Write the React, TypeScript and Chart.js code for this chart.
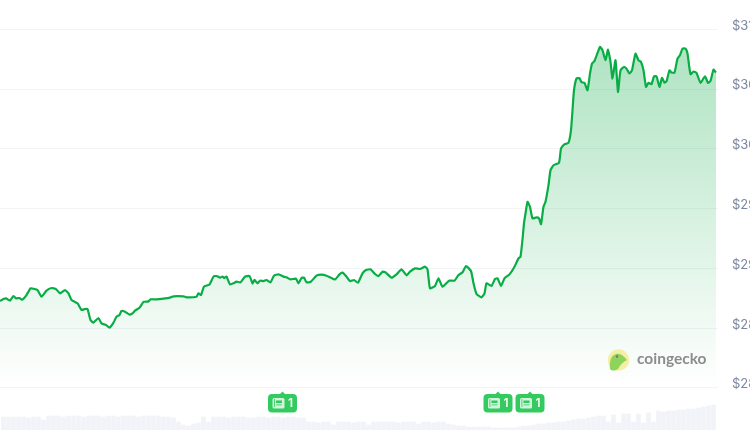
import React, { useEffect, useRef } from "react";
import { Chart, registerables } from "chart.js";

Chart.register(...registerables);

const priceTicks = [28000, 28500, 29000, 29500, 30000, 30500, 31000];

const priceMinutes = [
  0, 7, 12, 20, 27, 32, 39, 44, 53, 61, 67, 75, 83, 93, 103, 112, 120, 130, 137, 143,
  155, 163, 170, 175, 181, 187, 197, 203, 212, 219, 227, 233, 239, 243, 250, 259, 265, 270, 279, 287,
  297, 301, 313, 327, 340, 347, 367, 373, 393, 397, 402, 408, 419, 427, 433, 440, 445, 448, 453, 460,
  467, 473, 481, 490, 499, 505, 509, 515, 520, 527, 533, 541, 548, 557, 567, 573, 581, 592, 597, 603,
  608, 613, 621, 633, 643, 653, 670, 679, 685, 692, 700, 708, 716, 725, 732, 741, 750,
  757, 765, 771, 783, 793, 803, 813, 820, 830, 840, 850, 855, 860, 870, 877, 885, 898, 909, 917, 925,
  932, 942, 947, 953, 963, 969, 973, 983, 990, 995, 1002, 1009, 1019, 1029, 1037, 1041,
  1045, 1048, 1051, 1055, 1060, 1065, 1073, 1078, 1082, 1087, 1091, 1097, 1101, 1107, 1118, 1122, 1128, 1137, 1142, 1145,
  1148, 1153, 1159, 1163, 1169, 1175, 1180, 1184, 1189, 1200, 1205, 1211, 1216, 1221, 1225, 1231, 1236, 1241, 1248, 1253,
  1259, 1264, 1271, 1277, 1282, 1287, 1292, 1297, 1303, 1308, 1313, 1319, 1324, 1329, 1333, 1339, 1343, 1349, 1355, 1360,
  1365, 1371, 1375, 1381, 1387, 1393, 1401, 1410, 1416, 1421, 1427, 1432,
];

const priceValues = [
  28727, 28744, 28749, 28730, 28769, 28749, 28752, 28738, 28777, 28833, 28830, 28819, 28763, 28814, 28836, 28827, 28791, 28819, 28791, 28736,
  28708, 28652, 28660, 28660, 28568, 28546, 28585, 28540, 28527, 28504, 28546, 28596, 28610, 28644, 28638, 28613, 28624, 28646, 28671, 28719,
  28724, 28741, 28741, 28747, 28755, 28766, 28766, 28758, 28763, 28791, 28777, 28847, 28866, 28931, 28936, 28922, 28931, 28919, 28931, 28866,
  28875, 28889, 28883, 28931, 28936, 28875, 28903, 28875, 28897, 28894, 28903, 28883, 28939, 28950, 28931, 28925, 28908, 28914, 28875, 28919,
  28922, 28883, 28886, 28939, 28947, 28939, 28908, 28950, 28964, 28936, 28894, 28903, 28880, 28958, 28986, 28992, 28953,
  28936, 28972, 28967, 28922, 28950, 28992, 28942, 28972, 29000, 28995, 29014, 28992, 28833, 28853, 28917, 28847, 28897, 28897, 28944, 28967,
  29020, 28978, 28875, 28786, 28758, 28791, 28875, 28853, 28911, 28917, 28853, 28917, 28950, 29014, 29084, 29098,
  29242, 29376, 29459, 29557, 29515, 29418, 29426, 29418, 29370, 29515, 29557, 29696, 29822, 29863, 29883, 30003, 30036, 30050, 30156, 30323,
  30490, 30588, 30591, 30557, 30552, 30490, 30630, 30713, 30735, 30852, 30825, 30741, 30830, 30727, 30588, 30741, 30476, 30657, 30685, 30671,
  30630, 30657, 30797, 30741, 30727, 30657, 30518, 30552, 30540, 30607, 30607, 30518, 30593, 30554, 30565, 30657, 30638, 30638, 30755, 30783,
  30838, 30838, 30797, 30624, 30646, 30635, 30552, 30607, 30552, 30568, 30663, 30638,
];

const volumeValues = [
  13, 13, 13, 13, 13, 12, 13, 13, 10, 14, 14, 14, 13, 14, 14, 14, 13, 14, 14, 14,
  13, 14, 14, 13, 14, 14, 14, 13, 14, 14, 14, 14, 13, 13, 12, 8, 5, 4, 6, 7,
  13, 8, 13, 13, 13, 12, 13, 13, 13, 12, 12, 13, 13, 12, 13, 13, 12, 13, 13, 12,
  12, 8, 8, 7, 8, 8, 5, 8, 8, 8, 7, 8, 8, 5, 8, 8, 8, 8, 8, 7,
  8, 8, 8, 6, 8, 8, 7, 8, 8, 6, 5, 4, 4, 3, 3, 3, 3, 3, 2, 2,
  2, 2, 2, 3, 4, 4, 5, 6, 6, 7, 7, 8, 8, 9, 10, 11, 11, 12, 13, 14,
  14, 8, 15, 7, 16, 16, 8, 16, 7, 17, 8, 19, 18, 19, 19, 20, 20, 21, 21, 22,
  23, 24, 25,
];
const volumeFirstMinute = 7;
const volumeStepMinutes = 10;

const newsMinutes = [565, 996, 1060];
const newsCounts = ["1", "1", "1"];
const brandName = "coingecko";

const overlayPlugin = {
  id: "overlay",
  afterDatasetsDraw(chart: any) {
    const { ctx, scales } = chart;
    ctx.save();
    newsMinutes.forEach((m, i) => {
      const cx = scales.x.getPixelForValue(m);
      const left = cx - 14.5;
      const top = 394;
      ctx.fillStyle = "#33cb5f";
      ctx.beginPath();
      ctx.roundRect(left, top, 29, 18.5, 4);
      ctx.fill();
      ctx.beginPath();
      ctx.moveTo(cx - 2.5, top);
      ctx.lineTo(cx, top - 2.5);
      ctx.lineTo(cx + 2.5, top);
      ctx.fill();
      ctx.fillStyle = "#d4f3dc";
      ctx.beginPath();
      ctx.roundRect(left + 4.5, top + 4, 12, 10.5, 1.5);
      ctx.fill();
      ctx.fillStyle = "#33cb5f";
      ctx.fillRect(left + 8, top + 6.5, 6, 2.5);
      ctx.fillRect(left + 8, top + 10.5, 6, 0.8);
      ctx.fillRect(left + 6, top + 5, 0.8, 8);
      ctx.fillStyle = "#f4fcf6";
      ctx.font = "600 12px Inter, sans-serif";
      ctx.textAlign = "left";
      ctx.textBaseline = "middle";
      ctx.fillText(newsCounts[i], left + 20, top + 9.8);
    });

    ctx.fillStyle = "#f5eea6";
    ctx.beginPath();
    ctx.arc(618.5, 360, 10.7, 0, Math.PI * 2);
    ctx.fill();
    ctx.fillStyle = "#8fd45a";
    ctx.beginPath();
    ctx.moveTo(610, 369);
    ctx.bezierCurveTo(609, 362, 611, 355, 616, 354);
    ctx.bezierCurveTo(620, 353, 624, 356, 627, 360);
    ctx.bezierCurveTo(623, 362, 620, 365, 618, 369);
    ctx.bezierCurveTo(615, 371, 612, 371, 610, 369);
    ctx.fill();
    ctx.fillStyle = "#6b7280";
    ctx.beginPath();
    ctx.arc(617, 356.5, 1.2, 0, Math.PI * 2);
    ctx.fill();

    ctx.fillStyle = "#8a8c8e";
    ctx.font = "700 15.5px Lato, sans-serif";
    ctx.textAlign = "left";
    ctx.textBaseline = "middle";
    ctx.fillText(brandName, 637, 359);
    ctx.restore();
  },
};

export default function App() {
  const canvasRef = useRef<HTMLCanvasElement>(null);

  useEffect(() => {
    if (!canvasRef.current) return;
    const chart = new Chart(canvasRef.current, {
      type: "line",
      data: {
        datasets: [
          {
            type: "line",
            label: "Price",
            data: priceMinutes.map((m, i) => ({ x: m, y: priceValues[i] })),
            borderColor: "#08ad45",
            borderWidth: 2.2,
            pointRadius: 0,
            tension: 0.15,
            borderJoinStyle: "round",
            fill: { value: 28000 },
            backgroundColor: (c: any) => {
              const area = c.chart.chartArea;
              if (!area) return "rgba(0,168,62,0.2)";
              const g = c.chart.ctx.createLinearGradient(0, 60, 0, 388);
              g.addColorStop(0, "rgba(0,168,62,0.30)");
              g.addColorStop(1, "rgba(0,168,62,0)");
              return g;
            },
            yAxisID: "y",
            order: 1,
          },
          {
            type: "bar",
            label: "Volume",
            data: volumeValues.map((v, i) => ({ x: volumeFirstMinute + i * volumeStepMinutes, y: v })),
            backgroundColor: "#f2f3f8",
            barThickness: 4,
            yAxisID: "volume",
            order: 2,
          },
        ],
      } as any,
      options: {
        animation: false,
        responsive: false,
        parsing: undefined,
        layout: { padding: 0 },
        plugins: { legend: { display: false }, tooltip: { enabled: false } },
        scales: {
          x: { type: "linear", display: false, min: 0, max: 1436, offset: false },
          y: {
            position: "right",
            min: 27648,
            max: 31245,
            afterBuildTicks: (axis: any) => {
              axis.ticks = priceTicks.map((value) => ({ value }));
            },
            afterFit: (axis: any) => {
              axis.width = 102;
              axis.paddingTop = 0;
              axis.paddingBottom = 0;
            },
            grid: { color: "#f3f4f6", drawTicks: false },
            border: { display: false },
            ticks: {
              padding: 14,
              labelOffset: -3.5,
              color: "#7b879e",
              font: { family: "Inter, sans-serif", size: 13 },
              callback: (v: any) => "$" + Number(v).toLocaleString("en-US"),
            },
          },
          volume: { display: false, min: 0, max: 430 },
        },
      } as any,
      plugins: [overlayPlugin],
    });
    return () => chart.destroy();
  }, []);

  return (
    <div style={{ position: "fixed", left: 0, top: 0, width: 750, height: 430, overflow: "hidden", background: "#fff" }}>
      <canvas ref={canvasRef} width={820} height={430} style={{ display: "block" }} />
    </div>
  );
}
